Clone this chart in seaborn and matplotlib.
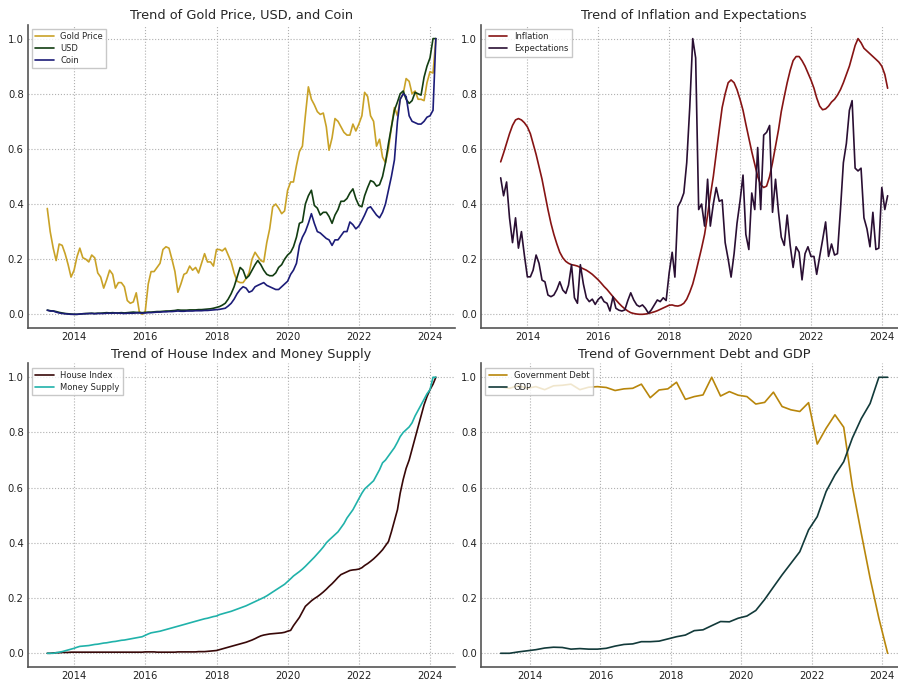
import matplotlib
matplotlib.use("Agg")
import matplotlib.dates as mdates
import matplotlib.pyplot as plt
import pandas as pd
import seaborn as sns

# monthly series, end of month, Mar 2013 .. Feb 2024
MONTHS = pd.date_range("2013-03-31", periods=132, freq="ME")
# quarterly series
QUARTERS = pd.date_range("2013-03-01", periods=45, freq="3MS")

gold_price = [
    0.384, 0.30, 0.24, 0.195, 0.255, 0.25, 0.22, 0.18, 0.135, 0.16,
    0.21, 0.24, 0.205, 0.20, 0.19, 0.215, 0.205, 0.15, 0.135, 0.095,
    0.125, 0.16, 0.145, 0.095, 0.115, 0.115, 0.10, 0.05, 0.04, 0.045,
    0.078, 0.01, 0.0, 0.01, 0.11, 0.155, 0.155, 0.17, 0.185, 0.235,
    0.245, 0.24, 0.20, 0.155, 0.08, 0.11, 0.145, 0.15, 0.175, 0.16,
    0.17, 0.15, 0.185, 0.22, 0.19, 0.19, 0.175, 0.235, 0.235, 0.23,
    0.24, 0.215, 0.19, 0.15, 0.12, 0.115, 0.115, 0.13, 0.15, 0.20,
    0.225, 0.21, 0.195, 0.19, 0.26, 0.31, 0.39, 0.40, 0.385, 0.365,
    0.375, 0.45, 0.48, 0.48, 0.54, 0.59, 0.61, 0.72, 0.825, 0.78,
    0.76, 0.735, 0.725, 0.73, 0.68, 0.595, 0.64, 0.71, 0.70, 0.68,
    0.66, 0.65, 0.65, 0.69, 0.665, 0.69, 0.72, 0.805, 0.79, 0.72,
    0.70, 0.61, 0.635, 0.57, 0.55, 0.60, 0.68, 0.75, 0.72, 0.78,
    0.80, 0.855, 0.845, 0.80, 0.81, 0.78, 0.78, 0.775, 0.84, 0.88, 0.875, 1.0,
]
usd = [
    0.015, 0.013, 0.012, 0.010, 0.007, 0.005, 0.003, 0.002, 0.001, 0.0,
    0.0, 0.001, 0.002, 0.003, 0.003, 0.004, 0.003, 0.004, 0.004, 0.005,
    0.006, 0.005, 0.006, 0.005, 0.005, 0.006, 0.005, 0.006, 0.007, 0.008,
    0.007, 0.007, 0.006, 0.007, 0.008, 0.008, 0.009, 0.010, 0.010, 0.011,
    0.012, 0.012, 0.013, 0.014, 0.016, 0.015, 0.015, 0.015, 0.016, 0.016,
    0.016, 0.017, 0.017, 0.018, 0.019, 0.020, 0.022, 0.025, 0.028, 0.033,
    0.040, 0.055, 0.075, 0.10, 0.135, 0.17, 0.16, 0.13, 0.14, 0.16,
    0.18, 0.195, 0.18, 0.16, 0.145, 0.14, 0.14, 0.15, 0.17, 0.18,
    0.20, 0.215, 0.225, 0.245, 0.28, 0.33, 0.335, 0.40, 0.43, 0.45,
    0.395, 0.385, 0.36, 0.37, 0.37, 0.355, 0.33, 0.36, 0.38, 0.41,
    0.41, 0.42, 0.44, 0.455, 0.42, 0.395, 0.39, 0.43, 0.46, 0.485,
    0.48, 0.465, 0.47, 0.50, 0.55, 0.62, 0.68, 0.74, 0.77, 0.80,
    0.81, 0.78, 0.765, 0.775, 0.805, 0.80, 0.795, 0.86, 0.90, 0.93, 1.0, 1.0,
]
coin = [
    0.015, 0.012, 0.012, 0.008, 0.005, 0.003, 0.002, 0.001, 0.0, 0.0,
    0.0, 0.001, 0.002, 0.002, 0.003, 0.003, 0.002, 0.003, 0.003, 0.003,
    0.004, 0.004, 0.004, 0.005, 0.004, 0.004, 0.003, 0.004, 0.004, 0.004,
    0.005, 0.005, 0.004, 0.005, 0.006, 0.006, 0.007, 0.008, 0.008, 0.009,
    0.009, 0.010, 0.010, 0.011, 0.012, 0.011, 0.011, 0.012, 0.012, 0.012,
    0.013, 0.013, 0.013, 0.014, 0.014, 0.015, 0.016, 0.017, 0.018, 0.020,
    0.022, 0.030, 0.040, 0.055, 0.075, 0.09, 0.10, 0.095, 0.08, 0.085,
    0.10, 0.105, 0.11, 0.115, 0.105, 0.10, 0.095, 0.09, 0.09, 0.10,
    0.11, 0.12, 0.145, 0.16, 0.185, 0.25, 0.28, 0.30, 0.33, 0.365,
    0.33, 0.30, 0.295, 0.285, 0.275, 0.27, 0.25, 0.27, 0.27, 0.285,
    0.30, 0.30, 0.335, 0.325, 0.31, 0.32, 0.34, 0.36, 0.385, 0.39,
    0.375, 0.36, 0.35, 0.37, 0.40, 0.45, 0.50, 0.56, 0.70, 0.78,
    0.80, 0.79, 0.72, 0.70, 0.695, 0.69, 0.69, 0.70, 0.715, 0.72, 0.74, 1.0,
]

inflation = [
    0.553, 0.585, 0.62, 0.655, 0.685, 0.705, 0.71, 0.705, 0.695, 0.68,
    0.655, 0.62, 0.58, 0.535, 0.49, 0.435, 0.38, 0.33, 0.29, 0.255,
    0.225, 0.205, 0.192, 0.185, 0.18, 0.178, 0.175, 0.17, 0.165, 0.16,
    0.153, 0.145, 0.135, 0.125, 0.113, 0.101, 0.09, 0.077, 0.064, 0.052,
    0.04, 0.029, 0.02, 0.012, 0.006, 0.003, 0.001, 0.0, 0.0, 0.001,
    0.003, 0.006, 0.009, 0.013, 0.018, 0.023, 0.028, 0.033, 0.034, 0.031,
    0.03, 0.033, 0.04, 0.055, 0.08, 0.11, 0.15, 0.195, 0.24, 0.29,
    0.36, 0.43, 0.50, 0.585, 0.67, 0.75, 0.80, 0.84, 0.85, 0.84,
    0.815, 0.78, 0.74, 0.69, 0.64, 0.59, 0.545, 0.50, 0.47, 0.46,
    0.465, 0.50, 0.55, 0.61, 0.67, 0.735, 0.79, 0.84, 0.885, 0.92,
    0.935, 0.935, 0.92, 0.90, 0.875, 0.85, 0.82, 0.785, 0.755, 0.742,
    0.745, 0.755, 0.77, 0.78, 0.795, 0.815, 0.84, 0.87, 0.90, 0.935,
    0.975, 1.0, 0.985, 0.965, 0.955, 0.945, 0.935, 0.925, 0.915, 0.90, 0.87, 0.82,
]
expectations = [
    0.495, 0.43, 0.48, 0.35, 0.26, 0.35, 0.24, 0.30, 0.215, 0.136,
    0.136, 0.16, 0.215, 0.185, 0.124, 0.118, 0.07, 0.064, 0.07, 0.09,
    0.118, 0.088, 0.076, 0.106, 0.18, 0.06, 0.04, 0.18, 0.11, 0.06,
    0.046, 0.055, 0.036, 0.054, 0.064, 0.046, 0.04, 0.012, 0.064, 0.022,
    0.015, 0.012, 0.016, 0.05, 0.078, 0.052, 0.034, 0.028, 0.034, 0.022,
    0.004, 0.016, 0.034, 0.052, 0.046, 0.06, 0.05, 0.15, 0.225, 0.135,
    0.39, 0.41, 0.44, 0.55, 0.75, 1.0, 0.93, 0.38, 0.40, 0.32,
    0.49, 0.32, 0.40, 0.46, 0.41, 0.415, 0.26, 0.20, 0.135, 0.22,
    0.33, 0.41, 0.505, 0.29, 0.235, 0.44, 0.38, 0.605, 0.38, 0.65,
    0.66, 0.685, 0.37, 0.49, 0.37, 0.28, 0.25, 0.36, 0.25, 0.17,
    0.245, 0.225, 0.125, 0.22, 0.245, 0.21, 0.21, 0.145, 0.21, 0.27,
    0.335, 0.21, 0.255, 0.215, 0.22, 0.38, 0.55, 0.62, 0.74, 0.775,
    0.53, 0.52, 0.53, 0.35, 0.31, 0.245, 0.37, 0.235, 0.24, 0.46, 0.38, 0.43,
]

house_index = [
    0.0, 0.0, 0.001, 0.002, 0.002, 0.003, 0.003, 0.003, 0.004, 0.004,
    0.004, 0.004, 0.004, 0.004, 0.004, 0.004, 0.004, 0.004, 0.004, 0.004,
    0.004, 0.004, 0.004, 0.004, 0.004, 0.004, 0.004, 0.004, 0.004, 0.004,
    0.004, 0.004, 0.004, 0.005, 0.005, 0.005, 0.005, 0.004, 0.004, 0.004,
    0.004, 0.004, 0.004, 0.004, 0.005, 0.005, 0.005, 0.005, 0.005, 0.005,
    0.005, 0.006, 0.006, 0.006, 0.007, 0.008, 0.009, 0.010, 0.013, 0.016,
    0.019, 0.022, 0.025, 0.028, 0.031, 0.034, 0.037, 0.040, 0.044, 0.048,
    0.053, 0.058, 0.063, 0.066, 0.068, 0.070, 0.071, 0.072, 0.073, 0.074,
    0.076, 0.080, 0.083, 0.10, 0.115, 0.13, 0.15, 0.17, 0.18, 0.19,
    0.198, 0.205, 0.213, 0.222, 0.232, 0.242, 0.252, 0.263, 0.275, 0.285,
    0.29, 0.295, 0.30, 0.302, 0.303, 0.305, 0.31, 0.318, 0.325, 0.333,
    0.342, 0.352, 0.363, 0.375, 0.39, 0.405, 0.44, 0.48, 0.52, 0.58,
    0.63, 0.67, 0.70, 0.74, 0.78, 0.82, 0.86, 0.90, 0.93, 0.955, 0.975, 1.0,
]
money_supply = [
    0.0, 0.0, 0.0, 0.002, 0.004, 0.006, 0.009, 0.012, 0.015, 0.018,
    0.022, 0.025, 0.026, 0.027, 0.028, 0.030, 0.032, 0.033, 0.035, 0.037,
    0.038, 0.040, 0.042, 0.043, 0.045, 0.047, 0.048, 0.050, 0.052, 0.054,
    0.056, 0.058, 0.060, 0.065, 0.070, 0.074, 0.076, 0.078, 0.080, 0.083,
    0.086, 0.089, 0.092, 0.095, 0.098, 0.101, 0.104, 0.107, 0.110, 0.113,
    0.116, 0.119, 0.122, 0.125, 0.127, 0.130, 0.133, 0.135, 0.140, 0.143,
    0.146, 0.149, 0.152, 0.156, 0.160, 0.164, 0.168, 0.172, 0.177, 0.182,
    0.187, 0.192, 0.197, 0.202, 0.208, 0.215, 0.222, 0.229, 0.236, 0.243,
    0.25, 0.26, 0.27, 0.28, 0.288, 0.296, 0.305, 0.315, 0.326, 0.337,
    0.348, 0.36, 0.372, 0.385, 0.40, 0.41, 0.42, 0.43, 0.44, 0.455,
    0.47, 0.49, 0.505, 0.52, 0.54, 0.56, 0.58, 0.595, 0.605, 0.615,
    0.625, 0.645, 0.665, 0.69, 0.70, 0.715, 0.73, 0.745, 0.765, 0.785,
    0.80, 0.81, 0.82, 0.835, 0.86, 0.88, 0.90, 0.92, 0.94, 0.955, 1.0, 1.0,
]

government_debt = [
    0.965, 0.96, 0.97, 0.96, 0.966, 0.955, 0.969, 0.971, 0.975, 0.955,
    0.964, 0.966, 0.963, 0.952, 0.958, 0.96, 0.975, 0.926, 0.954, 0.958,
    0.982, 0.92, 0.93, 0.936, 1.0, 0.932, 0.948, 0.935, 0.93, 0.903,
    0.909, 0.946, 0.894, 0.882, 0.876, 0.908, 0.758, 0.815, 0.864, 0.819,
    0.604, 0.435, 0.272, 0.127, 0.0,
]
gdp = [
    0.0, 0.0, 0.005, 0.009, 0.013, 0.019, 0.022, 0.021, 0.015, 0.017,
    0.015, 0.015, 0.018, 0.026, 0.032, 0.034, 0.042, 0.042, 0.044, 0.052,
    0.06, 0.066, 0.082, 0.085, 0.10, 0.115, 0.114, 0.127, 0.135, 0.155,
    0.195, 0.24, 0.284, 0.326, 0.368, 0.447, 0.495, 0.586, 0.646, 0.694,
    0.78, 0.85, 0.905, 1.0, 1.0,
]

PANELS = [
    ("Trend of Gold Price, USD, and Coin", MONTHS,
     [("Gold Price", gold_price, "#c9a227"), ("USD", usd, "#123d12"), ("Coin", coin, "#1c1c78")]),
    ("Trend of Inflation and Expectations", MONTHS,
     [("Inflation", inflation, "#861414"), ("Expectations", expectations, "#2a0f33")]),
    ("Trend of House Index and Money Supply", MONTHS,
     [("House Index", house_index, "#380808"), ("Money Supply", money_supply, "#20b2aa")]),
    ("Trend of Government Debt and GDP", QUARTERS,
     [("Government Debt", government_debt, "#b8860b"), ("GDP", gdp, "#123a3a")]),
]

# axes rectangles in figure fraction, right column runs a bit past the edge like the source
RECTS = [
    [0.031, 0.5175, 0.476, 0.446],
    [0.536, 0.5175, 0.474, 0.446],
    [0.031, 0.019, 0.476, 0.4465],
    [0.536, 0.019, 0.474, 0.4465],
]


def main() -> None:
    sns.set_theme(style="whitegrid", rc={
        "grid.linestyle": ":",
        "grid.color": "#b0b0b0",
        "grid.linewidth": 0.8,
        "axes.edgecolor": "#555555",
        "axes.linewidth": 1.2,
    })
    plt.rcParams["font.family"] = ["DejaVu Sans"]

    fig = plt.figure(figsize=(8.98, 6.8), dpi=100)

    for rect, (title, dates, series) in zip(RECTS, PANELS):
        ax = fig.add_axes(rect)
        for name, values, color in series:
            sns.lineplot(x=dates, y=values, ax=ax, color=color, label=name, linewidth=1.2)
        ax.set_title(title, fontsize=9.3, pad=4)
        ax.set_xlabel("")
        ax.set_ylabel("")
        ax.set_ylim(-0.05, 1.05)
        ax.set_yticks([0.0, 0.2, 0.4, 0.6, 0.8, 1.0])
        ax.xaxis.set_major_locator(mdates.YearLocator(2))
        ax.xaxis.set_major_formatter(mdates.DateFormatter("%Y"))
        ax.tick_params(labelsize=7.2, length=0, pad=3, colors="#222222")
        sns.despine(ax=ax)
        ax.legend(loc="upper left", fontsize=6, frameon=True, framealpha=0.8,
                  edgecolor="#bbbbbb", fancybox=False, handlelength=2.2, borderpad=0.4,
                  labelspacing=0.35)

    fig.savefig("out.png", dpi=100)


if __name__ == "__main__":
    main()
